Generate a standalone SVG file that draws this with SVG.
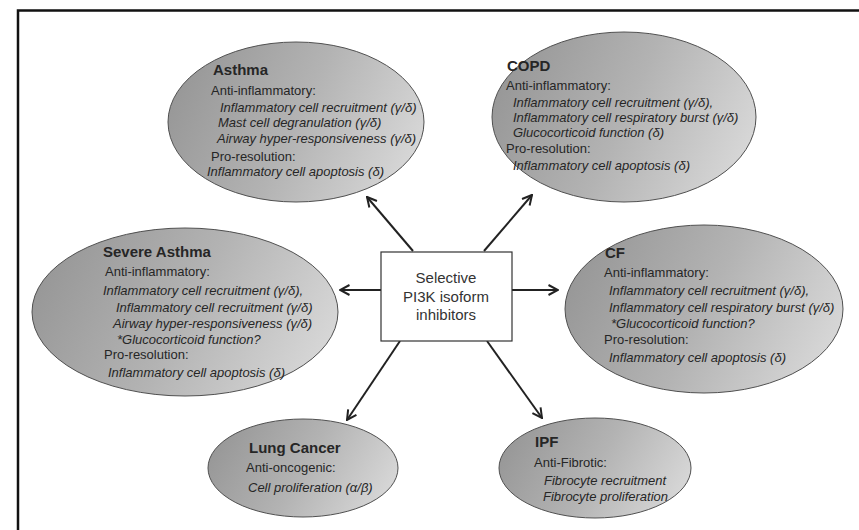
<svg xmlns="http://www.w3.org/2000/svg" width="859" height="530" viewBox="0 0 859 530">
<defs>
<linearGradient id="g" x1="0" y1="0.35" x2="1" y2="0.65">
<stop offset="0" stop-color="#979797"/>
<stop offset="0.5" stop-color="#b3b3b3"/>
<stop offset="1" stop-color="#d8d8d8"/>
</linearGradient>
<marker id="ah" viewBox="0 0 12 12" refX="11" refY="6" markerWidth="12" markerHeight="12" markerUnits="userSpaceOnUse" orient="auto">
<path d="M1.5,1 L11,6 L1.5,11" fill="none" stroke="#222" stroke-width="2"/>
</marker>
<style>
.el{fill:url(#g);stroke:#505050;stroke-width:1}
text{font-family:"Liberation Sans",Arial,sans-serif;fill:#262626}
.t{font-size:15px;font-weight:bold}
.h{font-size:13px}
.i{font-size:13px;font-style:italic}
.c{font-size:15px;text-anchor:middle;fill:#333}
.ar{stroke:#222;stroke-width:2;fill:none;marker-end:url(#ah)}
</style>
</defs>
<rect x="0" y="0" width="859" height="530" fill="#fff"/>
<rect x="18" y="10.5" width="900" height="600" fill="none" stroke="#111" stroke-width="2.5"/>

<g id="connectors">
<line class="ar" x1="413" y1="251" x2="367" y2="197"/>
<line class="ar" x1="484" y1="251" x2="532" y2="195"/>
<line class="ar" x1="381" y1="290" x2="340" y2="290"/>
<line class="ar" x1="512" y1="290" x2="558" y2="290"/>
<line class="ar" x1="400" y1="341" x2="347" y2="420"/>
<line class="ar" x1="487" y1="341" x2="542" y2="418"/>
</g>

<g id="center">
<rect x="381" y="252" width="131" height="89" fill="#fff" stroke="#333" stroke-width="1.2"/>
<text class="c" x="446" y="283">Selective</text>
<text class="c" x="446" y="302">PI3K isoform</text>
<text class="c" x="446" y="320">inhibitors</text>
</g>

<g id="asthma">
<ellipse class="el" cx="296" cy="122" rx="128" ry="80"/>
<text class="t" x="213" y="75">Asthma</text>
<text class="h" x="211" y="95">Anti-inflammatory:</text>
<text class="i" x="220" y="112">Inflammatory cell recruitment (γ/δ)</text>
<text class="i" x="218" y="127">Mast cell degranulation (γ/δ)</text>
<text class="i" x="217" y="143">Airway hyper-responsiveness (γ/δ)</text>
<text class="h" x="211" y="161">Pro-resolution:</text>
<text class="i" x="207" y="176">Inflammatory cell apoptosis (δ)</text>
</g>

<g id="copd">
<ellipse class="el" cx="624" cy="117" rx="132" ry="85"/>
<text class="t" x="507" y="71">COPD</text>
<text class="h" x="506" y="90">Anti-inflammatory:</text>
<text class="i" x="513" y="107">Inflammatory cell recruitment (γ/δ),</text>
<text class="i" x="513" y="122">Inflammatory cell respiratory burst (γ/δ)</text>
<text class="i" x="513" y="137">Glucocorticoid function (δ)</text>
<text class="h" x="506" y="153">Pro-resolution:</text>
<text class="i" x="513" y="170">Inflammatory cell apoptosis (δ)</text>
</g>

<g id="severe-asthma">
<ellipse class="el" cx="185" cy="312" rx="153" ry="84"/>
<text class="t" x="103" y="257">Severe Asthma</text>
<text class="h" x="105" y="276">Anti-inflammatory:</text>
<text class="i" x="103" y="295">Inflammatory cell recruitment (γ/δ),</text>
<text class="i" x="116" y="312">Inflammatory cell recruitment (γ/δ)</text>
<text class="i" x="113" y="328">Airway hyper-responsiveness (γ/δ)</text>
<text class="i" x="117" y="344">*Glucocorticoid function?</text>
<text class="h" x="104" y="359">Pro-resolution:</text>
<text class="i" x="108" y="377">Inflammatory cell apoptosis (δ)</text>
</g>

<g id="cf">
<ellipse class="el" cx="704" cy="309" rx="139" ry="84"/>
<text class="t" x="605" y="258">CF</text>
<text class="h" x="604" y="277">Anti-inflammatory:</text>
<text class="i" x="609" y="295">Inflammatory cell recruitment (γ/δ),</text>
<text class="i" x="609" y="312">Inflammatory cell respiratory burst (γ/δ)</text>
<text class="i" x="611" y="328">*Glucocorticoid function?</text>
<text class="h" x="604" y="344">Pro-resolution:</text>
<text class="i" x="609" y="362">Inflammatory cell apoptosis (δ)</text>
</g>

<g id="lung-cancer">
<ellipse class="el" cx="303" cy="468" rx="95" ry="49"/>
<text class="t" x="249" y="453">Lung Cancer</text>
<text class="h" x="246" y="472">Anti-oncogenic:</text>
<text class="i" x="248" y="492">Cell proliferation (α/β)</text>
</g>

<g id="ipf">
<ellipse class="el" cx="595" cy="468" rx="96" ry="50"/>
<text class="t" x="535" y="447">IPF</text>
<text class="h" x="534" y="467">Anti-Fibrotic:</text>
<text class="i" x="544" y="485">Fibrocyte recruitment</text>
<text class="i" x="543" y="501">Fibrocyte proliferation</text>
</g>
</svg>
